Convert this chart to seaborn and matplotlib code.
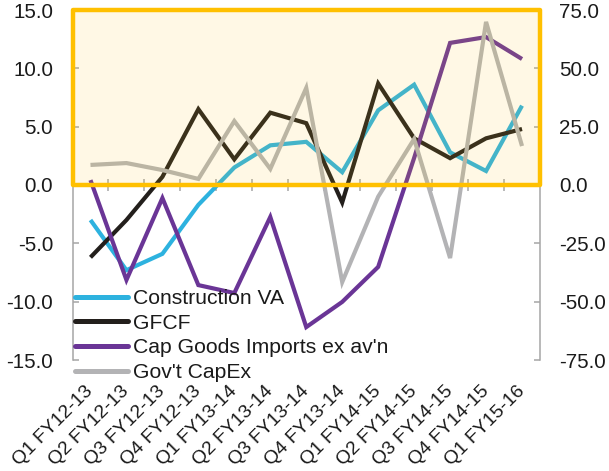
import numpy as np
import matplotlib
matplotlib.use("Agg")
import matplotlib.pyplot as plt
import seaborn as sns
from matplotlib.patches import Rectangle
from matplotlib.ticker import FormatStrFormatter

# Quarterly growth, % y/y
quarters = ["Q1 FY12-13", "Q2 FY12-13", "Q3 FY12-13", "Q4 FY12-13",
            "Q1 FY13-14", "Q2 FY13-14", "Q3 FY13-14", "Q4 FY13-14",
            "Q1 FY14-15", "Q2 FY14-15", "Q3 FY14-15", "Q4 FY14-15",
            "Q1 FY15-16"]

# Left axis series
construction_va = [-3.0, -7.3, -5.9, -1.7, 1.5, 3.4, 3.7, 1.1, 6.4, 8.6, 2.8, 1.2, 6.8]
gfcf = [-6.2, -3.0, 0.7, 6.5, 2.2, 6.2, 5.3, -1.5, 8.7, 4.0, 2.3, 4.0, 4.8]

# Right axis series
cap_goods_imports = [2.1, -40.7, -5.6, -42.9, -46.3, -13.7, -60.9, -50.1, -35.1, 11.6, 60.9, 63.4, 54.0]
govt_capex = [8.6, 9.4, 6.4, 2.6, 27.4, 6.9, 41.6, -41.6, -5.0, 19.7, -31.3, 69.9, 16.7]

left_ticks = [-15, -10, -5, 0, 5, 10, 15]
right_ticks = [-75, -50, -25, 0, 25, 50, 75]

BLUE = "#2DB2DF"
BLACK = "#231F1C"
PURPLE = "#6A3596"
GREY = "#B3B3B5"
AXIS_GREY = "#A6A6A6"
GOLD = "#FFC000"
TEXT = "#1A1A1A"

sns.set_theme(style="white")
plt.rcParams["font.family"] = ["Liberation Sans", "DejaVu Sans"]
plt.rcParams["axes.unicode_minus"] = False

W, H = 609, 471
fig = plt.figure(figsize=(W / 100, H / 100), dpi=100)
left_px, right_px, top_px, bottom_px = 72.5, 540, 10, 360
ax = fig.add_axes([left_px / W, 1 - bottom_px / H,
                   (right_px - left_px) / W, (bottom_px - top_px) / H])
ax.patch.set_alpha(0)
ax2 = ax.twinx()

x = np.arange(len(quarters))
line_kw = dict(linewidth=3.0, solid_joinstyle="miter", solid_capstyle="butt")

sns.lineplot(x=x, y=construction_va, ax=ax, color=BLUE, label="Construction VA", legend=False, **line_kw)
sns.lineplot(x=x, y=gfcf, ax=ax, color=BLACK, label="GFCF", legend=False, **line_kw)
sns.lineplot(x=x, y=cap_goods_imports, ax=ax2, color=PURPLE, label="Cap Goods Imports ex av'n", legend=False, **line_kw)
sns.lineplot(x=x, y=govt_capex, ax=ax2, color=GREY, label="Gov't CapEx", legend=False, **line_kw)

ax.set_xlim(-0.5, len(quarters) - 0.5)
ax.set_ylim(-15, 15)
ax2.set_ylim(-75, 75)

# Highlighted positive zone, tinting everything beneath it
ax2.add_patch(Rectangle((-0.5, 0), len(quarters), 75,
                        facecolor=(1.0, 0.78, 0.1, 0.11), edgecolor=GOLD,
                        linewidth=3.2, joinstyle="round", zorder=10, clip_on=False))

# Y axes
fs = 14.8
ax.set_yticks(left_ticks)
ax.yaxis.set_major_formatter(FormatStrFormatter("%.1f"))
ax.tick_params(axis="y", direction="in", length=4, width=1.1, color=AXIS_GREY,
               pad=14, labelsize=fs, labelcolor=TEXT, left=True)
ax2.set_yticks(right_ticks)
ax2.yaxis.set_major_formatter(FormatStrFormatter("%.1f"))
ax2.tick_params(axis="y", direction="in", length=4, width=1.1, color=AXIS_GREY,
                pad=14, labelsize=fs, labelcolor=TEXT, right=True)
ax.set_ylabel("")
ax2.set_ylabel("")

for name, sp in ax.spines.items():
    sp.set_visible(name == "left")
    sp.set_color(AXIS_GREY)
    sp.set_linewidth(1.1)
for name, sp in ax2.spines.items():
    sp.set_visible(name == "right")
    sp.set_color(AXIS_GREY)
    sp.set_linewidth(1.1)

# Category labels along the bottom
ax.set_xticks(x)
ax.set_xticklabels(quarters, rotation=45, ha="right", va="center",
                   rotation_mode="anchor")
ax.tick_params(axis="x", length=0, pad=20.5, labelsize=13.9, labelcolor=TEXT, bottom=True)
ax.grid(False)
ax2.grid(False)

# Category axis crossing at zero, ticks between categories
zero_axis = ax.secondary_xaxis(0.5)
zero_axis.set_xticks(np.arange(0.5, len(quarters) - 1, 1.0))
zero_axis.xaxis.set_ticks_position("bottom")
zero_axis.tick_params(axis="x", direction="inout", length=9, width=1.1,
                      color=AXIS_GREY, labelbottom=False, labeltop=False)
for sp in zero_axis.spines.values():
    sp.set_color(AXIS_GREY)

h1, l1 = ax.get_legend_handles_labels()
h2, l2 = ax2.get_legend_handles_labels()
leg = ax2.legend(h1 + h2, l1 + l2, loc="upper left",
                 bbox_to_anchor=((75 - left_px) / (right_px - left_px), (bottom_px - 289) / (bottom_px - top_px)),
                 bbox_transform=ax.transAxes, frameon=False, fontsize=15.2,
                 handlelength=2.5, handletextpad=0.25, labelspacing=0.27,
                 borderaxespad=0, borderpad=0)
for ln in leg.get_lines():
    ln.set_linewidth(3.6)
    ln.set_solid_capstyle("round")
for t in leg.get_texts():
    t.set_color(TEXT)

fig.savefig("out.png", dpi=100)
